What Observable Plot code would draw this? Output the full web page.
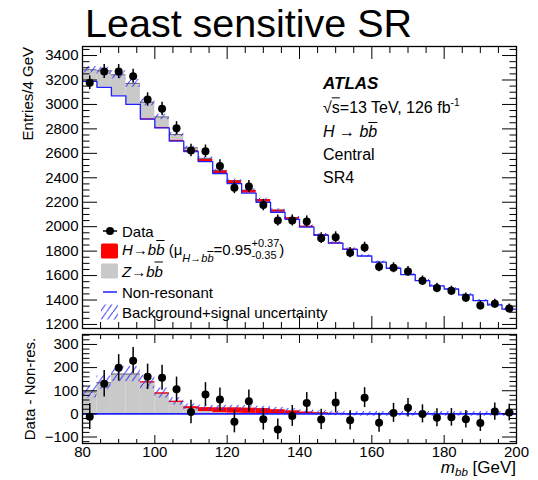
<!DOCTYPE html>
<html><head><meta charset="utf-8">
<script src="https://cdn.jsdelivr.net/npm/d3@7"></script>
<script src="https://cdn.jsdelivr.net/npm/@observablehq/plot@0.6"></script>
<style>
html,body{margin:0;padding:0;background:#fff}
#wrap{position:relative;width:538px;height:480px;overflow:hidden;font-family:"Liberation Sans",Arial,Helvetica,sans-serif;color:#000}
#wrap > svg{position:absolute;left:0}
.t{position:absolute;white-space:nowrap;line-height:1;transform:translateY(-50%)}
.ob{text-decoration:overline}
.ss{display:inline-block;vertical-align:middle;font-size:11px;line-height:12px;position:relative;top:-2px}
.ss span{display:block}
.sub{font-size:11px;position:relative;top:7px;font-style:italic}
</style></head><body>
<svg width="0" height="0" style="position:absolute">
 <defs>
  <pattern id="hatch" patternUnits="userSpaceOnUse" width="6.5" height="9">
   <path d="M-0.72,10 L7.22,-1" stroke="#3030ff" stroke-width="1"/>
  </pattern>
 </defs>
</svg>
<div id="wrap"></div>
<script>
// ---- data ----
const mbbCenters = [82,86,90,94,98,102,106,110,114,118,122,126,130,134,138,142,146,150,154,158,162,166,170,174,178,182,186,190,194,198];
const binWidth = 4;
const dataCounts = [3177,3270,3269,3230,3040,2964,2806,2623,2617,2497,2318,2329,2177,2051,2051,2043,1906,1914,1787,1830,1672,1664,1634,1558,1498,1475,1419,1356,1370,1331];
const dataErr    = [56,57,57,57,55,54,53,51,51,50,48,48,47,45,45,45,44,44,42,43,41,41,40,39,39,38,38,37,37,36];
const nonRes     = [3189,3140,3070,3000,2880,2808,2700,2615,2533,2435,2352,2274,2200,2118,2060,1996,1930,1865,1815,1760,1710,1660,1608,1558,1515,1490,1442,1395,1360,1325];
const zbb        = [95,135,172,172,136,87,49,22,10,5,3,2,1,1,0,0,0,0,0,0,0,0,0,0,0,0,0,0,0,0];
const hbb        = [0,0,0,0,2,3,5,8,16,20,22,22,21,16,12,7,4,2,1,0,0,0,0,0,0,0,0,0,0,0];
const sysUnc     = [26,29,33,33,29,22,16,13,12,12,12,12,11,11,11,10,10,10,10,10,10,10,10,10,10,10,10,10,10,10];
const xTickLabels = [80,100,120,140,160,180,200];
const yTicksMain  = [1200,1400,1600,1800,2000,2200,2400,2600,2800,3000,3200,3400];
const yTicksRatio = [-100,0,100,200,300];

// ---- derived table ----
const bins = mbbCenters.map((c,i)=>({c, lo:c-binWidth/2, hi:c+binWidth/2, n:dataCounts[i], e:dataErr[i],
  nr:nonRes[i], z:zbb[i], h:hbb[i], u:sysUnc[i]}));
const edges = bins.map(b=>({x:b.lo, nr:b.nr})).concat([{x:bins[bins.length-1].hi, nr:bins[bins.length-1].nr}]);
const tot = d => d.nr + d.h + d.z;

const FONT = '"Liberation Sans", Arial, Helvetica, sans-serif';
const blue = "#2020ff", grey = "#c9c9c9", red = "#ff0000";
const minorX = d3.range(80, 200.1, 5).filter(v => v % 20 !== 0);
const minorYMain = d3.range(1200, 3474, 50).filter(v => v % 200 !== 0);
const minorYRatio = d3.range(-120, 343, 20).filter(v => v % 100 !== 0);
const numFmt = d => d < 0 ? "\u2212" + (-d) : String(d);
const blank = () => "";

function frameTicks(xMaj, xMin, yMaj, yMin, yMinorVals, yMajorVals, opts) {
  return [
    Plot.axisY(yMajorVals,{anchor:"left",tickSize:-yMaj,tickPadding:yMaj+4,tickFormat:numFmt,label:null,fontSize:15}),
    Plot.axisY(yMinorVals,{anchor:"left",tickSize:-yMin,tickFormat:blank,label:null}),
    Plot.axisY(yMajorVals,{anchor:"right",tickSize:-yMaj,tickFormat:blank,label:null}),
    Plot.axisY(yMinorVals,{anchor:"right",tickSize:-yMin,tickFormat:blank,label:null}),
    Plot.axisX(xTickLabels,{anchor:"bottom",tickSize:-xMaj,tickPadding:xMaj+3,tickFormat:opts.xLabels?numFmt:blank,label:null,fontSize:15}),
    Plot.axisX(minorX,{anchor:"bottom",tickSize:-xMin,tickFormat:blank,label:null}),
    Plot.axisX(xTickLabels,{anchor:"top",tickSize:-xMaj,tickFormat:blank,label:null}),
    Plot.axisX(minorX,{anchor:"top",tickSize:-xMin,tickFormat:blank,label:null}),
    Plot.frame({stroke:"#000",strokeWidth:1.3})
  ];
}

const topPlot = Plot.plot({
  width:538, height:335, marginLeft:82, marginRight:22, marginTop:46, marginBottom:7,
  x:{domain:[80,200], label:null},
  y:{domain:[1167,3474], label:null},
  style:{fontFamily:FONT, fontSize:"15px", background:"transparent", overflow:"visible", color:"#000"},
  marks:[
    Plot.rect(bins,{x1:"lo",x2:"hi",y1:"nr",y2:d=>d.nr+d.h,fill:red}),
    Plot.rect(bins,{x1:"lo",x2:"hi",y1:d=>d.nr+d.h,y2:tot,fill:grey}),
    Plot.ruleY(bins.filter(d=>d.z>0),{x1:"lo",x2:"hi",y:tot,stroke:"#555",strokeWidth:0.8}),
    Plot.ruleY(bins.filter(d=>d.h>0),{x1:"lo",x2:"hi",y:d=>d.nr+d.h,stroke:red,strokeWidth:1.2}),
    Plot.rect(bins,{x1:"lo",x2:"hi",y1:d=>tot(d)-d.u,y2:d=>tot(d)+d.u,fill:"url(#hatch)"}),
    Plot.line(edges,{x:"x",y:"nr",curve:"step-after",stroke:blue,strokeWidth:1.3}),
    Plot.ruleX(bins,{x:"c",y1:d=>d.n-d.e,y2:d=>d.n+d.e,stroke:"#000",strokeWidth:1.5}),
    Plot.dot(bins,{x:"c",y:"n",r:4,fill:"#000"}),
    ...frameTicks(12,6,15,7.5,minorYMain,yTicksMain,{xLabels:false})
  ]
});
topPlot.style.top = "0px";

const botPlot = Plot.plot({
  width:538, height:150, marginLeft:82, marginRight:22, marginTop:4, marginBottom:37,
  x:{domain:[80,200], label:null},
  y:{domain:[-128,343], label:null},
  style:{fontFamily:FONT, fontSize:"15px", background:"transparent", overflow:"visible", color:"#000"},
  marks:[
    Plot.rect(bins,{x1:"lo",x2:"hi",y1:0,y2:"z",fill:grey}),
    Plot.rect(bins,{x1:"lo",x2:"hi",y1:"z",y2:d=>d.z+d.h,fill:red}),
    Plot.ruleY(bins.filter(d=>d.z>0 && d.h===0),{x1:"lo",x2:"hi",y:"z",stroke:"#555",strokeWidth:0.8}),
    Plot.ruleY(bins.filter(d=>d.h>0),{x1:"lo",x2:"hi",y:d=>d.z+d.h,stroke:red,strokeWidth:1.2}),
    Plot.rect(bins,{x1:"lo",x2:"hi",y1:d=>d.z+d.h-d.u,y2:d=>d.z+d.h+d.u,fill:"url(#hatch)"}),
    Plot.ruleY([0],{stroke:blue,strokeWidth:1.8}),
    Plot.ruleX(bins,{x:"c",y1:d=>d.n-d.nr-d.e,y2:d=>d.n-d.nr+d.e,stroke:"#000",strokeWidth:1.5}),
    Plot.dot(bins,{x:"c",y:d=>d.n-d.nr,r:4,fill:"#000"}),
    ...frameTicks(8,4,15,7.5,minorYRatio,yTicksRatio,{xLabels:true})
  ]
});
botPlot.style.top = "330px";

const wrap = document.getElementById("wrap");
wrap.appendChild(topPlot);
wrap.appendChild(botPlot);

function addText(html, left, cy, size, extra) {
  const d = document.createElement("div");
  d.className = "t";
  d.style.left = left + "px";
  d.style.top = cy + "px";
  d.style.fontSize = size + "px";
  if (extra) Object.assign(d.style, extra);
  d.innerHTML = html;
  wrap.appendChild(d);
  return d;
}

// title
addText("Least sensitive SR", 85, 24, 39.5);

// axis titles
const yl = document.createElement("div");
yl.textContent = "Entries/4 GeV";
Object.assign(yl.style,{position:"absolute",left:"27px",top:"47px",fontSize:"15px",lineHeight:"1",whiteSpace:"nowrap",
  transformOrigin:"0 0",transform:"rotate(-90deg) translate(-100%,-50%)"});
wrap.appendChild(yl);
const yl2 = document.createElement("div");
yl2.textContent = "Data - Non-res.";
Object.assign(yl2.style,{position:"absolute",left:"29px",top:"389px",fontSize:"15px",lineHeight:"1",whiteSpace:"nowrap",
  transform:"translate(-50%,-50%) rotate(-90deg)"});
wrap.appendChild(yl2);
addText('<i>m</i><span style="font-size:11.5px;font-style:italic;position:relative;top:3px;line-height:1">bb</span> [GeV]', 516, 468, 17, {transform:"translate(-100%,-50%)", lineHeight:"15px"});

// ATLAS labels
addText("<b><i>ATLAS</i></b>", 323, 83, 17);
addText('\u221A<span class="ob">s</span>=13 TeV, 126 fb<sup style="font-size:10px">-1</sup>', 323, 107, 16);
addText('<i>H</i> \u2192 <i>b</i><i class="ob">b</i>', 323, 132, 16);
addText("Central", 323, 155, 16);
addText("SR4", 323, 178, 16);

// legend
function addSym(svg, cy) {
  const d = document.createElement("div");
  Object.assign(d.style,{position:"absolute",left:"100px",top:(cy-9)+"px",width:"20px",height:"18px"});
  d.innerHTML = svg;
  wrap.appendChild(d);
}
addSym('<svg width="20" height="18"><line x1="3" y1="9" x2="17" y2="9" stroke="#000" stroke-width="1.5"/><circle cx="10" cy="9" r="4" fill="#000"/></svg>', 231);
addSym('<svg width="20" height="18"><rect x="1" y="1.5" width="17" height="15" rx="1.5" fill="'+red+'"/></svg>', 251);
addSym('<svg width="20" height="18"><rect x="1" y="1.5" width="17" height="15" rx="1.5" fill="'+grey+'"/></svg>', 271);
addSym('<svg width="20" height="18"><line x1="3" y1="9" x2="17" y2="9" stroke="'+blue+'" stroke-width="1.5"/></svg>', 292);
addSym('<svg width="20" height="18"><rect x="1" y="1.5" width="17" height="15" fill="url(#hatch)"/></svg>', 312);

addText("Data", 122, 231, 15);
addText('<i>H</i>\u2192<i>b</i><i class="ob">b</i> (\u03BC<span class="sub">H\u2192b<span class="ob">b</span></span>=0.95<span class="ss"><span>+0.37</span><span>-0.35</span></span>)', 122, 251, 15);
addText('<i>Z</i>\u2192<i>b</i><i class="ob">b</i>', 122, 271, 15);
addText("Non-resonant", 122, 292, 15);
addText("Background+signal uncertainty", 122, 312, 15);
</script></body></html>
